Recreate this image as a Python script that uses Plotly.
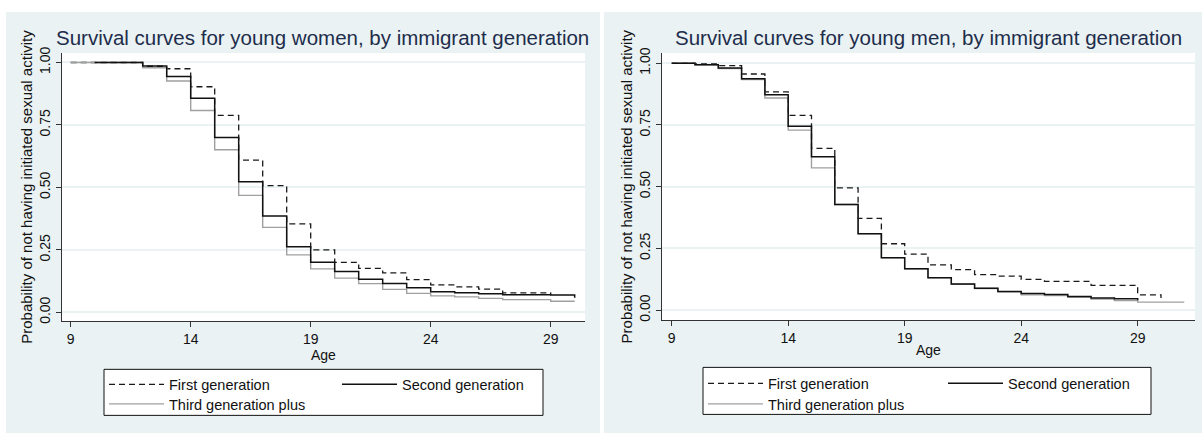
import plotly.graph_objects as go

W, H = 1202, 436

# ---------------- data ----------------
# Each series: ages where a step value starts, the value on [age, age+1),
# the age where the curve ends and the value it drops to at that end.
women_first_ages = list(range(9, 29))
women_first = [1.0, 1.0, 1.0, 0.985, 0.975, 0.903, 0.788, 0.609, 0.507, 0.354,
               0.250, 0.200, 0.176, 0.158, 0.131, 0.110, 0.102, 0.093, 0.078, 0.078]
women_first_end, women_first_last = 29, 0.072

women_second_ages = list(range(10, 30))
women_second = [1.0, 1.0, 0.986, 0.944, 0.857, 0.700, 0.523, 0.386, 0.262, 0.200,
                0.163, 0.132, 0.115, 0.098, 0.082, 0.078, 0.074, 0.070, 0.070, 0.069]
women_second_end, women_second_last = 30, 0.058

women_third_ages = list(range(9, 30))
women_third = [1.0, 1.0, 1.0, 0.979, 0.926, 0.808, 0.651, 0.468, 0.340, 0.230,
               0.174, 0.137, 0.115, 0.092, 0.076, 0.066, 0.062, 0.056, 0.051, 0.051, 0.044]
women_third_end, women_third_last = 30, 0.044

men_first_ages = list(range(9, 30))
men_first = [1.0, 0.997, 0.990, 0.956, 0.884, 0.789, 0.655, 0.495, 0.372, 0.269,
             0.227, 0.184, 0.164, 0.144, 0.138, 0.125, 0.117, 0.117, 0.101, 0.101, 0.062]
men_first_end, men_first_last = 30, 0.050

men_second_ages = list(range(9, 29))
men_second = [1.0, 0.993, 0.980, 0.937, 0.872, 0.745, 0.621, 0.428, 0.310, 0.212,
              0.168, 0.132, 0.106, 0.089, 0.076, 0.068, 0.064, 0.056, 0.050, 0.047]
men_second_end, men_second_last = 29, 0.040

men_third_ages = list(range(9, 31))
men_third = [1.0, 0.993, 0.978, 0.934, 0.859, 0.729, 0.576, 0.428, 0.310, 0.213,
             0.168, 0.132, 0.105, 0.088, 0.075, 0.062, 0.059, 0.052, 0.045, 0.039, 0.033, 0.033]
men_third_end, men_third_last = 31, 0.033

series_names = ["First generation", "Second generation", "Third generation plus"]
x_ticks = [9, 14, 19, 24, 29]
y_ticks = [0.0, 0.25, 0.5, 0.75, 1.0]
y_tick_labels = ["0.00", "0.25", "0.50", "0.75", "1.00"]
titles = ["Survival curves for young women, by immigrant generation",
          "Survival curves for young men, by immigrant generation"]
y_title = "Probability of not having initiated sexual activity"
x_title = "Age"

# ---------------- styling ----------------
FONT = "Liberation Sans, Arial, sans-serif"
BG = "#eaf2f3"
TITLE_COL = "#1e2d4b"
styles = {
    "First generation": dict(color="#1a1a1a", width=1.3, dash="6px,4px"),
    "Second generation": dict(color="#111111", width=1.5),
    "Third generation plus": dict(color="#a0a0a0", width=1.4),
}


def px_x(p):
    return p / W


def px_y(p):
    return 1 - p / H


fig = go.Figure()

panels = [
    dict(xa="x", ya="y", legs=("legend", "legend2"),
         data={"First generation": (women_first_ages, women_first, women_first_end, women_first_last),
               "Second generation": (women_second_ages, women_second, women_second_end, women_second_last),
               "Third generation plus": (women_third_ages, women_third, women_third_end, women_third_last)}),
    dict(xa="x2", ya="y2", legs=("legend3", "legend4"),
         data={"First generation": (men_first_ages, men_first, men_first_end, men_first_last),
               "Second generation": (men_second_ages, men_second, men_second_end, men_second_last),
               "Third generation plus": (men_third_ages, men_third, men_third_end, men_third_last)}),
]

# draw order: dashed, gray, black (black on top)
draw_order = ["First generation", "Third generation plus", "Second generation"]
for p in panels:
    for name in draw_order:
        ages, vals, end, last = p["data"][name]
        xs = list(ages) + [end]
        ys = list(vals) + [last]
        leg = p["legs"][1] if name == "Third generation plus" else p["legs"][0]
        fig.add_trace(go.Scatter(
            x=xs, y=ys, mode="lines", line_shape="hv", name=name,
            line=styles[name], xaxis=p["xa"], yaxis=p["ya"], legend=leg,
            legendrank=series_names.index(name), hoverinfo="skip"))

axis_common = dict(showgrid=False, zeroline=False, showline=True, linecolor="#333333",
                   linewidth=1, ticks="outside", ticklen=5, tickcolor="#333333",
                   tickfont=dict(family=FONT, size=14, color="#111111"))
yaxis_common = dict(axis_common, showgrid=True, gridcolor=BG, gridwidth=1.5,
                    tickvals=y_ticks, ticktext=y_tick_labels, tickangle=-90,
                    title=dict(text=y_title, font=dict(family=FONT, size=15, color="#111111"),
                               standoff=0))
xaxis_common = dict(axis_common, tickvals=x_ticks,
                    title=dict(text=x_title, font=dict(family=FONT, size=14, color="#111111"),
                               standoff=0))

fig.update_layout(
    width=W, height=H, margin=dict(l=0, r=0, t=0, b=0),
    paper_bgcolor="white", plot_bgcolor="white", showlegend=True,
    xaxis=dict(xaxis_common, domain=[px_x(61.7), px_x(585)], range=[8.625, 30.43], anchor="y"),
    yaxis=dict(yaxis_common, domain=[px_y(321.7), px_y(48)], range=[-0.035, 1.038], anchor="x"),
    xaxis2=dict(xaxis_common, domain=[px_x(661.7), px_x(1195)], range=[8.571, 31.46], anchor="y2"),
    yaxis2=dict(yaxis_common, domain=[px_y(321), px_y(48)], range=[-0.041, 1.041], anchor="x2"),
)

leg_common = dict(orientation="h", xanchor="left", yanchor="top", bgcolor="rgba(0,0,0,0)",
                  borderwidth=0, itemwidth=55, font=dict(family=FONT, size=14.5, color="#111111"),
                  itemclick=False, itemdoubleclick=False, tracegroupgap=0)
fig.update_layout(
    legend=dict(leg_common, x=px_x(104), y=px_y(370), entrywidth=163),
    legend2=dict(leg_common, x=px_x(104), y=px_y(390)),
    legend3=dict(leg_common, x=px_x(703), y=px_y(369), entrywidth=170),
    legend4=dict(leg_common, x=px_x(703), y=px_y(390)),
)

shapes = [
    # panel backgrounds
    dict(type="rect", xref="paper", yref="paper", x0=px_x(6), x1=px_x(600), y0=0, y1=px_y(6),
         fillcolor=BG, line=dict(width=0), layer="below"),
    dict(type="rect", xref="paper", yref="paper", x0=px_x(604), x1=1, y0=0, y1=px_y(6),
         fillcolor=BG, line=dict(width=0), layer="below"),
    # plot areas
    dict(type="rect", xref="x domain", yref="y domain", x0=0, x1=1, y0=0, y1=1,
         fillcolor="white", line=dict(width=0), layer="below"),
    dict(type="rect", xref="x2 domain", yref="y2 domain", x0=0, x1=1, y0=0, y1=1,
         fillcolor="white", line=dict(width=0), layer="below"),
    # legend boxes
    dict(type="rect", xref="paper", yref="paper", x0=px_x(104), x1=px_x(543),
         y0=px_y(418), y1=px_y(371), fillcolor="white", line=dict(color="#111111", width=1),
         layer="below"),
    dict(type="rect", xref="paper", yref="paper", x0=px_x(703), x1=px_x(1151),
         y0=px_y(417), y1=px_y(369), fillcolor="white", line=dict(color="#111111", width=1),
         layer="below"),
]
fig.update_layout(shapes=shapes)

fig.add_annotation(text=titles[0], xref="paper", yref="paper", x=px_x(322), y=px_y(32),
                   xanchor="center", yanchor="middle", showarrow=False,
                   font=dict(family=FONT, size=20.5, color=TITLE_COL))
fig.add_annotation(text=titles[1], xref="paper", yref="paper", x=px_x(928), y=px_y(32),
                   xanchor="center", yanchor="middle", showarrow=False,
                   font=dict(family=FONT, size=20.5, color=TITLE_COL))

fig.write_html("out.html", config={"displayModeBar": False},
               post_script="document.body.style.margin='0';document.body.style.padding='0';"
                           "document.body.style.overflow='hidden';"
                           "var d=document.getElementById('{plot_id}');"
                           "d.style.position='fixed';d.style.top='0px';d.style.left='0px';")
